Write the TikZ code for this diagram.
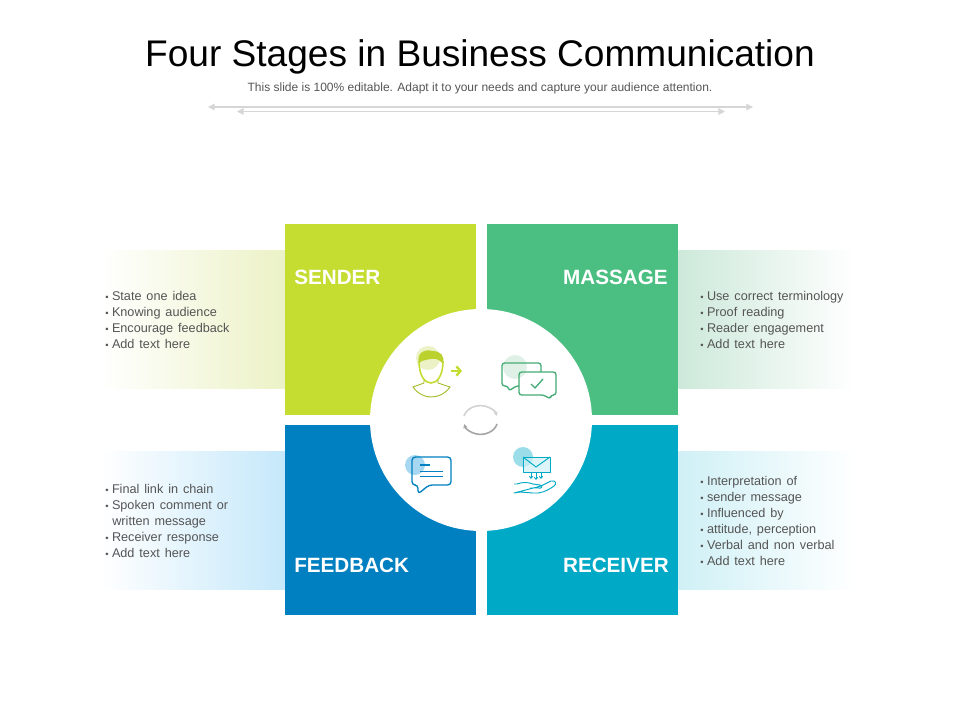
\documentclass[tikz,border=0pt]{standalone}
\usepackage{fontspec}
\setmainfont{Liberation Sans}
\newfontfamily\listfamily[WordSpace=1.4]{Liberation Sans}
\usepackage{tikz}
\usetikzlibrary{arrows.meta}
\definecolor{mysender}{RGB}{197,220,48}
\definecolor{mymassage}{RGB}{75,191,130}
\definecolor{myfeedback}{RGB}{0,128,192}
\definecolor{myreceiver}{RGB}{0,169,197}
\definecolor{mysenderlight}{RGB}{236,242,198}
\definecolor{mymassagelight}{RGB}{205,233,218}
\definecolor{myfeedbacklight}{RGB}{197,232,250}
\definecolor{myreceiverlight}{RGB}{207,240,246}
\definecolor{myline}{RGB}{214,214,214}
\definecolor{mytext}{RGB}{85,85,85}
\newcommand{\itm}{{\scriptsize\textbullet}\hspace{2.6pt}}
\newcommand{\cnt}{\hspace{5.3pt}}
\tikzset{
    x=0.75pt, y=-0.75pt,
    quadrant/.style={anchor=north west, minimum width=142.7pt, minimum height=143pt, inner sep=0pt},
    title/.style={font=\fontsize{27.8}{32}\selectfont, text=black},
    panel/.style={anchor=north west, minimum height=104pt, inner sep=0pt},
    panelleft/.style={panel, minimum width=138.75pt},
    panelright/.style={panel, minimum width=132.75pt},
    heading/.style={font=\fontsize{15.5}{18}\selectfont\bfseries, text=white, inner sep=0pt},
    bullets/.style={anchor=west, align=left, text=mytext, inner sep=0pt, font=\listfamily\fontsize{9.5}{12}\selectfont},
    guide/.style={draw=myline, line width=0.8pt, {Triangle[width=5pt,length=5pt]}-{Triangle[width=5pt,length=5pt]}},
    senderline/.style={draw=mysender!85!black, line width=0.7pt},
    massageline/.style={draw=mymassage!90!black, line width=1pt, line join=round},
    feedbackline/.style={draw=myfeedback, line width=1pt, line join=round},
    receiverline/.style={draw=myreceiver, line width=0.7pt, line join=round}
}
\begin{document}
\begin{tikzpicture}
    \useasboundingbox (0,0) rectangle (960,720);

    % heading
    \node[title] (headline) at (480,57) {Four Stages in Business Communication};
    \node[text=mytext, font=\fontsize{9}{11}\selectfont] (subline) at (480,88) {This slide is 100\% editable. Adapt it to your needs and capture your audience attention.};
    \coordinate (upperleft) at (208,107);
    \coordinate (upperright) at (753,107);
    \coordinate (lowerleft) at (237,111.5);
    \coordinate (lowerright) at (725,111.5);
    \draw[guide] (upperleft) -- (upperright);
    \draw[guide] (lowerleft) -- (lowerright);

    % side panels
    \node[panelleft, left color=white, right color=mysenderlight] (senderpanel) at (100,250) {};
    \node[panelright, left color=mymassagelight, right color=white] (massagepanel) at (678,250) {};
    \node[panelleft, left color=white, right color=myfeedbacklight] (feedbackpanel) at (100,451) {};
    \node[panelright, left color=myreceiverlight, right color=white] (receiverpanel) at (678,451) {};

    % quadrants
    \node[quadrant, fill=mysender] (sender) at (285,224) {};
    \node[quadrant, fill=mymassage] (massage) at (487,224) {};
    \node[quadrant, fill=myfeedback] (feedback) at (285,424.5) {};
    \node[quadrant, fill=myreceiver] (receiver) at (487,424.5) {};
    \node[circle, fill=white, minimum size=166.5pt, inner sep=0pt] (hub) at (481,420) {};

    \node[heading, anchor=west] (sendertext) at (294,277) {SENDER};
    \node[heading, anchor=east] (massagetext) at (668,277) {MASSAGE};
    \node[heading, anchor=west] (feedbacktext) at (294,565) {FEEDBACK};
    \node[heading, anchor=east] (receivertext) at (669,565) {RECEIVER};

    % bullet lists
    \node[bullets] (senderlist) at (105,320) {\itm State one idea\\\itm Knowing audience\\\itm Encourage feedback\\\itm Add text here};
    \node[bullets] (massagelist) at (700,320) {\itm Use correct terminology\\\itm Proof reading\\\itm Reader engagement\\\itm Add text here};
    \node[bullets] (feedbacklist) at (105,521) {\itm Final link in chain\\\itm Spoken comment or\\\cnt written message\\\itm Receiver response\\\itm Add text here};
    \node[bullets] (receiverlist) at (700,521) {\itm Interpretation of\\\itm sender message\\\itm Influenced by\\\itm attitude, perception\\\itm Verbal and non verbal\\\itm Add text here};

    % sender icon
    \fill[mysenderlight] (428,358) circle [radius=12];
    \draw[mysender, line width=1.2pt] (419,361) .. controls (419,376) and (425,383) .. (431,383) .. controls (437,383) and (443,376) .. (443,361);
    \fill[mysender!95!black] (419,363) .. controls (416,352) and (426,349) .. (432,351) .. controls (441,351) and (445,356) .. (443,364) .. controls (440,360) and (436,358) .. (431,359) .. controls (426,360) and (422,360) .. (419,363) -- cycle;
    \draw[senderline] (424,380) -- (424,383) -- (413,387) .. controls (418,394) and (425,397) .. (431,397) .. controls (438,397) and (445,394) .. (450,387) -- (438,383) -- (438,380);
    \draw[mysender, line width=1.8pt, -{Straight Barb[length=3pt,width=7pt]}] (451,371) -- (462,371);

    % massage icon
    \fill[mymassagelight!65] (515,367) circle [radius=12];
    \draw[massageline, rounded corners=2pt] (519,386) -- (516,386) -- (509,391) -- (508,386) -- (502,386) -- (502,363) -- (541,363) -- (541,372);
    \draw[massageline, rounded corners=2pt] (519,372) -- (556,372) -- (556,395) -- (551,395) -- (550,399) -- (544,395) -- (519,395) -- cycle;
    \draw[massageline] (531,384) -- (535,388) -- (543,379);

    % cycle icon
    \draw[gray!35, line width=1.2pt, -{Triangle[width=3pt,length=3pt]}] (464,416) arc [start angle=-165, end angle=-15, x radius=17, y radius=14];
    \draw[gray!70, line width=1.2pt, -{Triangle[width=3pt,length=3pt]}] (497,424) arc [start angle=15, end angle=165, x radius=17, y radius=14];

    % feedback icon
    \fill[myfeedbacklight!85!myfeedback] (415,465) circle [radius=10];
    \draw[feedbackline, rounded corners=2.5pt] (412,457) -- (451,457) -- (451,485) -- (429,485) -- (418,494) -- (418,485) -- (412,485) -- cycle;
    \draw[feedbackline, line width=1.3pt] (420,465) -- (430,465);
    \draw[feedbackline, line width=0.7pt] (420,471) -- (443,471);
    \draw[feedbackline, line width=0.7pt] (420,476) -- (443,476);

    % receiver icon
    \fill[myreceiverlight!75!myreceiver] (523,457) circle [radius=10];
    \draw[receiverline, fill=myreceiverlight, fill opacity=0.7] (523,457) rectangle (550,472);
    \draw[receiverline] (523,457) -- (536,467) -- (550,457);
    \draw[receiverline, -{Straight Barb[length=1.5pt,width=2.5pt]}] (531,473) -- (531,479);
    \draw[receiverline, -{Straight Barb[length=1.5pt,width=2.5pt]}] (536,473) -- (536,480);
    \draw[receiverline, -{Straight Barb[length=1.5pt,width=2.5pt]}] (541,473) -- (541,479);
    \draw[receiverline] (514,484) -- (517,484) .. controls (522,482) and (528,482) .. (533,484) -- (540,485) .. controls (543,486) and (542,489) .. (538,488) -- (530,488) (541,486) -- (551,481) .. controls (556,480) and (557,484) .. (554,486) .. controls (547,491) and (540,494) .. (533,493) -- (520,492) -- (514,493) -- cycle;
\end{tikzpicture}
\end{document}
